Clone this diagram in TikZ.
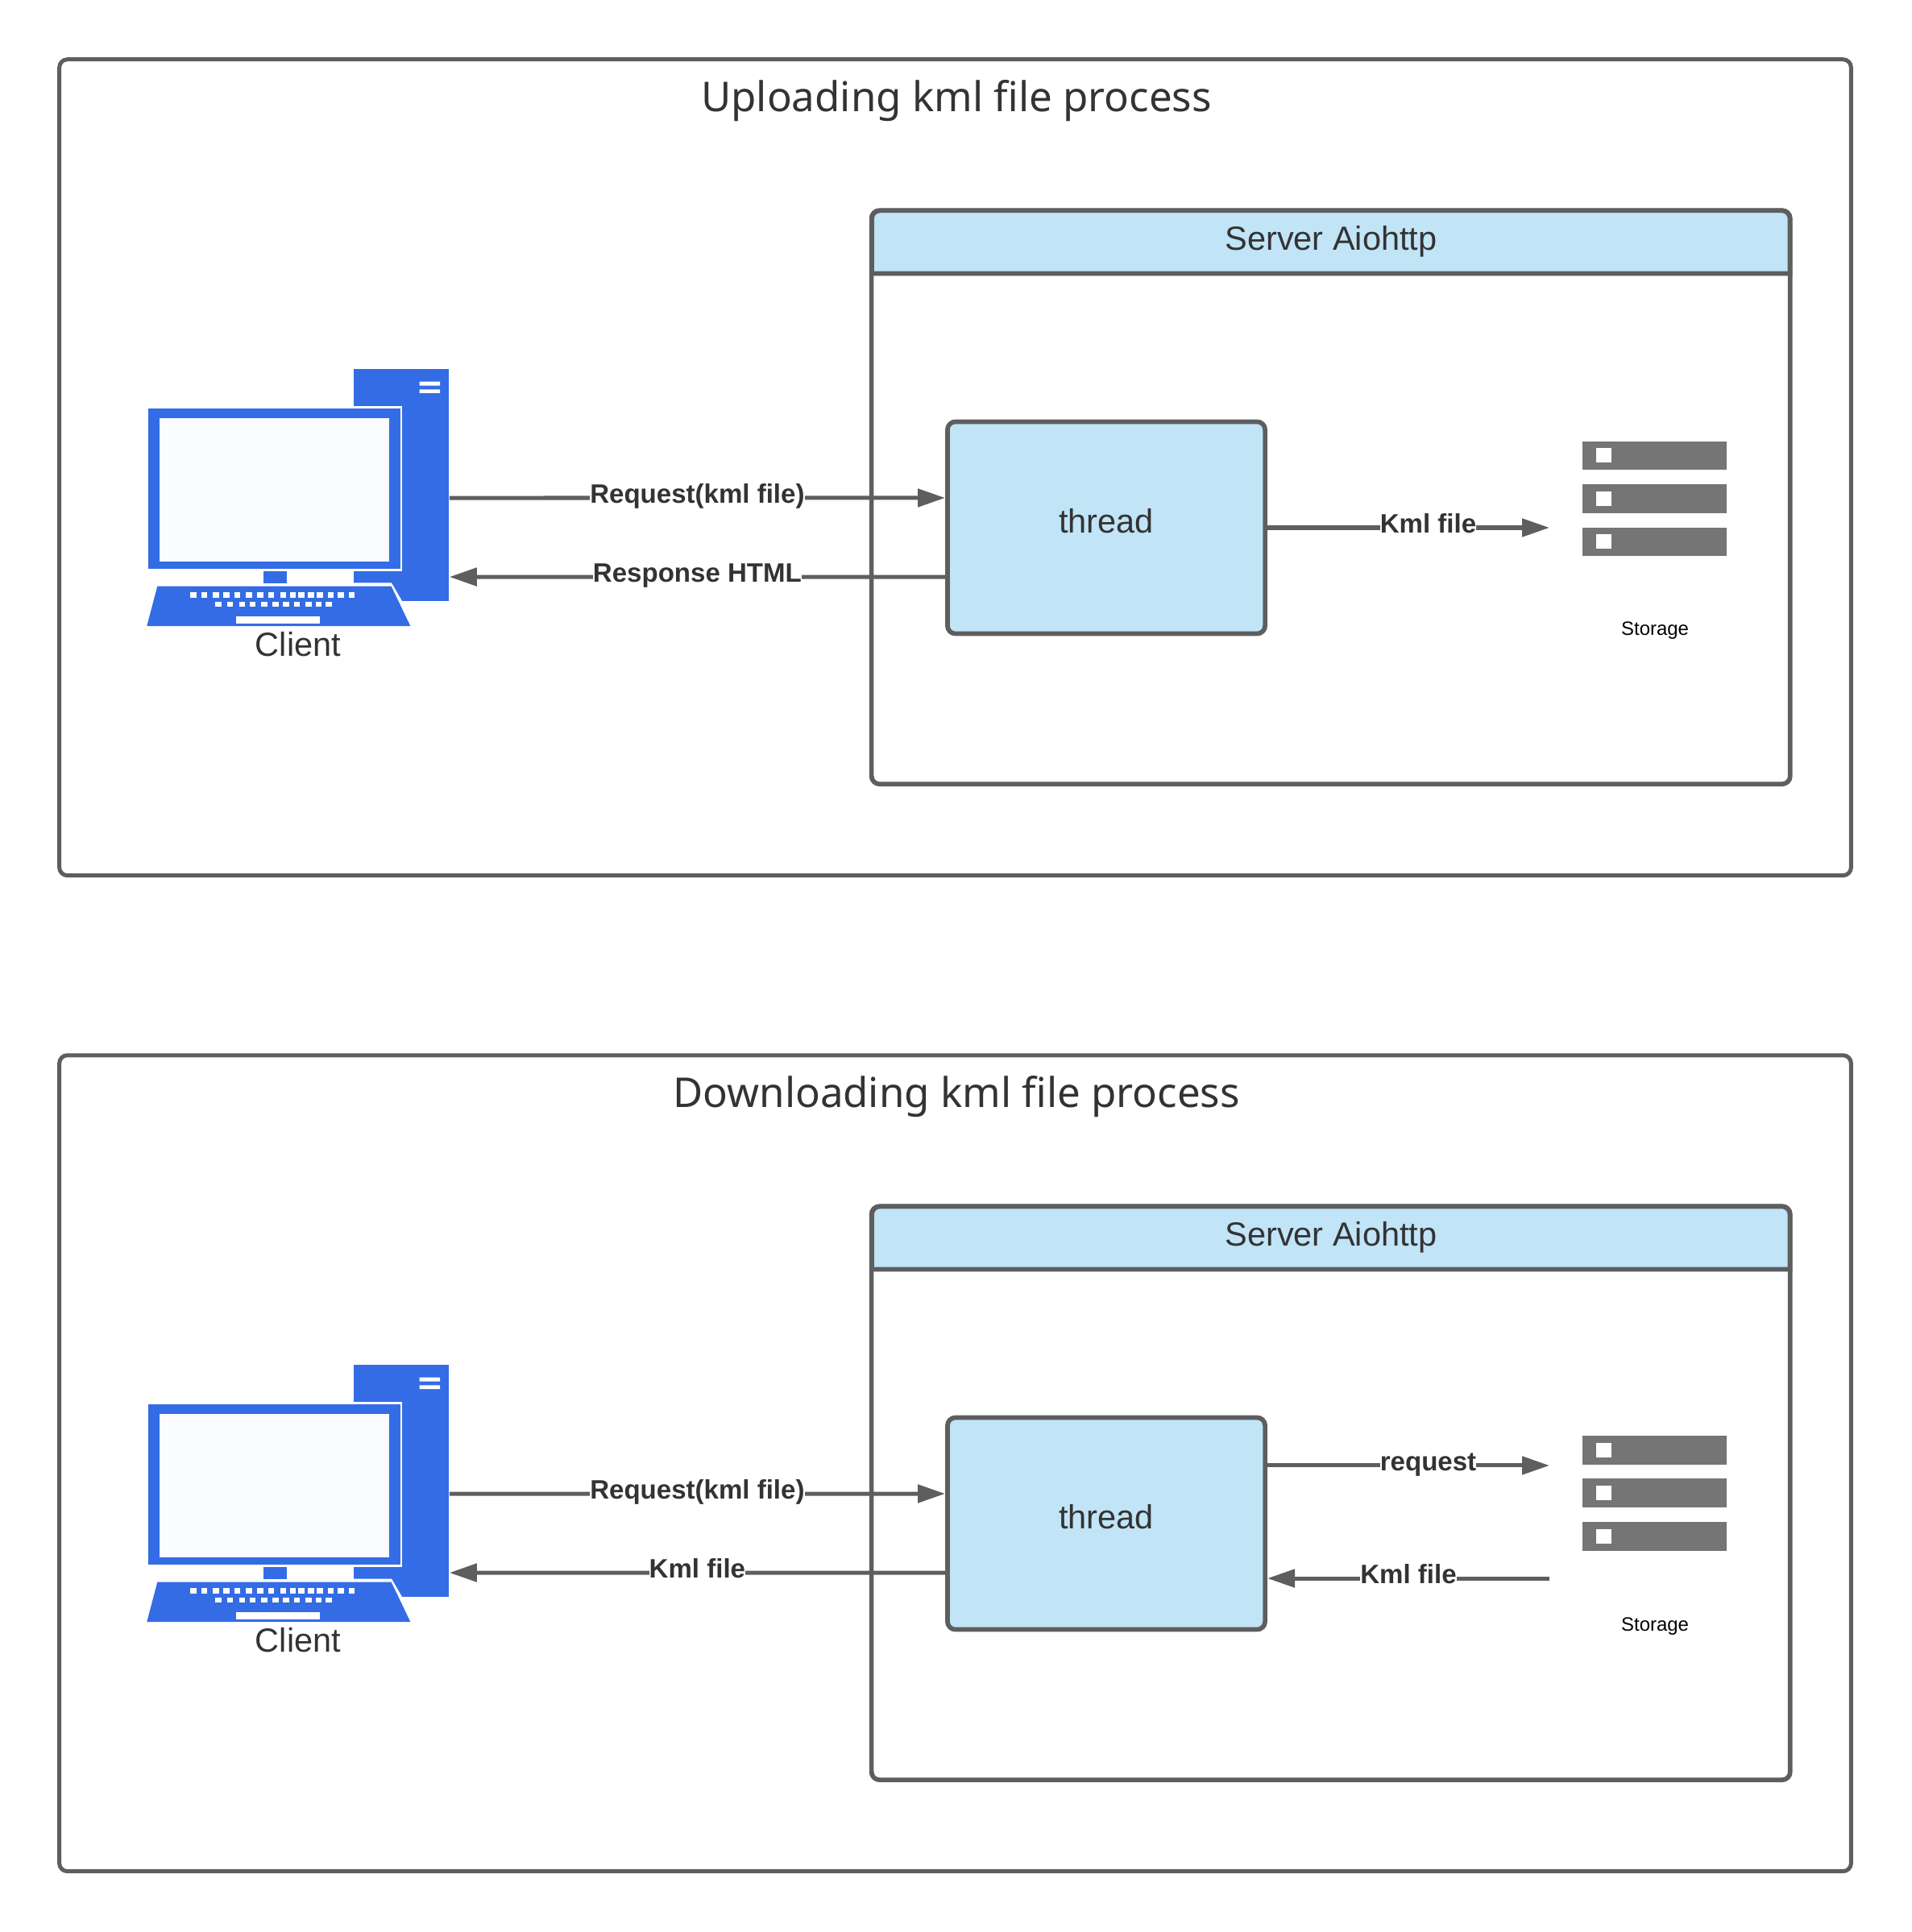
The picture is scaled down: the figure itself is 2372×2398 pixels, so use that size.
\documentclass[tikz,border=0pt]{standalone}
\usepackage{fontspec}
\setmainfont{Liberation Sans}
\newfontfamily\titlefont{Noto Sans}
\usetikzlibrary{arrows.meta}
\definecolor{lineGray}{HTML}{5E5E5E}
\definecolor{textGray}{HTML}{333333}
\definecolor{boxBlue}{HTML}{C1E4F7}
\definecolor{pcBlue}{HTML}{336CE5}
\definecolor{screenWhite}{HTML}{FBFCFF}
\definecolor{rackGray}{HTML}{757575}
\tikzset{
  boxline/.style={draw=lineGray,line width=.057cm,rounded corners=.1cm},
  bodytext/.style={text=textGray,font=\fontsize{11.8}{14}\selectfont},
  outerbox/.style={boxline,line width=.05cm,minimum width=22.224cm,minimum height=10.123cm},
  serverbox/.style={boxline,minimum width=11.395cm,minimum height=7.116cm},
  threadbox/.style={boxline,bodytext,fill=boxBlue,minimum width=3.94cm,minimum height=2.63cm,text depth=.18cm},
  flow/.style={lineGray,line width=.05cm},
  flowto/.style={flow,-{Triangle[length=.34cm,width=.22cm]}},
  flowlabel/.style={fill=white,inner sep=0pt,text=textGray,text height=.24cm,text depth=.07cm,yshift=.02cm,font=\fontsize{9.4}{11}\selectfont\bfseries},
  pics/rack/.style={code={
    \foreach \ry in {547.7,601,654.6}{
      \fill[rackGray] (1964,\ry) rectangle (2142.7,\ry+35.6);
      \fill[white] (1981.3,\ry+8.8) rectangle (2000,\ry+26.8);
    }
  }},
  pics/panel/.style={code={
    \node[outerbox] (-outer) at (1185.5,580.2) {};
    \node[text=textGray,font=\titlefont\fontsize{14.5}{17}\selectfont] (-title) at (1187,125.5) {#1};
    \node[serverbox] (-server) at (1651.7,617.2) {};
    \draw[boxline,fill=boxBlue] (1082,339.5) [rounded corners=.1cm] -- (1082,261.4) -- (2221.5,261.4) [sharp corners] -- (2221.5,339.5) -- cycle;
    \node[bodytext] (-servertitle) at (1652,299.5) {Server Aiohttp};
    \node[threadbox] (-thread) at (1373,655) {thread};
    % client
    \node[fill=pcBlue,inner sep=0pt,minimum width=1.177cm,minimum height=2.874cm] (-tower) at (498.2,602) {};
    \fill[white] (439,504) rectangle (499,709);
    \fill[white] (439,723.5) -- (486,723.5) -- (499,746) -- (499,778) -- (439,778) -- cycle;
    \fill[white] (520.7,473.7) rectangle (546,478.7) (520.7,483.3) rectangle (546,488);
    \fill[pcBlue] (184,506.7) rectangle (496.7,706);
    \fill[screenWhite] (198.3,519) rectangle (482.7,696.7);
    \fill[pcBlue] (326.7,709) rectangle (356,724.3);
    \fill[pcBlue] (195.3,727.7) -- (485.7,727.7) -- (509.3,777) -- (182.3,777) -- cycle;
    \foreach \kx in {236,249.7,264.3,277.3,290.7,305,319.3,332.7,347.7,359.7,370.3,382.3,393.3,406.7,419,432.7}
      \fill[white] (\kx,735.3) rectangle ++(7.7,6.7);
    \foreach \kx in {267.3,281.7,296.7,309.7,324,338,351,364.7,379,391.7,404}
      \fill[white] (\kx,747) rectangle ++(7.7,6.3);
    \fill[white] (293.3,764.7) rectangle (396.7,774);
    \node[bodytext] (-client) at (370,800) {Client};
    % storage
    \node[font=\fontsize{6.8}{8}\selectfont] (-storage) at (2054,783) {Storage};
    \coordinate (-rack) at (1923,655);
  }}
}
\begin{document}
\begin{tikzpicture}[x=.01cm,y=-.01cm]
  \useasboundingbox (0,0) rectangle (2372,2398);
  \pic (up) at (0,0) {panel=Uploading kml file process};
  \pic (down) at (0,1236) {panel=Downloading kml file process};
  \pic (uprack) at (0,0) {rack};
  \pic (downrack) at (0,1234.3) {rack};

  \draw[flowto] ([yshift=-.16cm]up-tower.east) -- node[midway,flowlabel] (upreq) {Request(kml file)} ([yshift=.37cm]up-thread.west);
  \draw[flowto] ([yshift=-.61cm]up-thread.west) -- node[midway,flowlabel] (upresp) {Response HTML} ([yshift=-1.14cm]up-tower.east);
  \draw[flowto] (up-thread.east) -- node[pos=.57,flowlabel] (upkml) {Kml file} (up-rack);

  \draw[flowto] ([yshift=-.16cm]down-tower.east) -- node[midway,flowlabel] (downreq) {Request(kml file)} ([yshift=.37cm]down-thread.west);
  \draw[flowto] ([yshift=-.61cm]down-thread.west) -- node[midway,flowlabel] (downkml) {Kml file} ([yshift=-1.14cm]down-tower.east);
  \draw[flowto] ([yshift=.72cm]down-thread.east) -- node[pos=.57,flowlabel] (downask) {request} ([yshift=.72cm]down-rack);
  \draw[flowto] ([yshift=-.68cm]down-rack) -- node[midway,flowlabel] (downback) {Kml file} ([yshift=-.68cm]down-thread.east);
\end{tikzpicture}
\end{document}
